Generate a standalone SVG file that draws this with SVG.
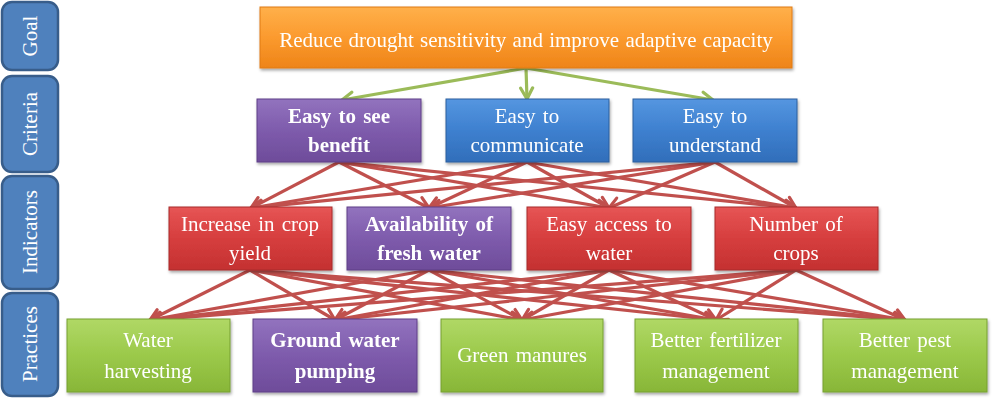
<svg xmlns="http://www.w3.org/2000/svg" width="992" height="404" viewBox="0 0 992 404">
<defs>
<linearGradient id="gOr" x1="0" y1="0" x2="0" y2="1"><stop offset="0" stop-color="#FFB04A"/><stop offset="0.5" stop-color="#FB9A2E"/><stop offset="1" stop-color="#EE8418"/></linearGradient>
<linearGradient id="gPu" x1="0" y1="0" x2="0" y2="1"><stop offset="0" stop-color="#9273BE"/><stop offset="0.5" stop-color="#7E5BAC"/><stop offset="1" stop-color="#6E4C9A"/></linearGradient>
<linearGradient id="gBl" x1="0" y1="0" x2="0" y2="1"><stop offset="0" stop-color="#5596E0"/><stop offset="0.5" stop-color="#3E80CF"/><stop offset="1" stop-color="#316EBA"/></linearGradient>
<linearGradient id="gRd" x1="0" y1="0" x2="0" y2="1"><stop offset="0" stop-color="#E65555"/><stop offset="0.5" stop-color="#D63E3E"/><stop offset="1" stop-color="#C43131"/></linearGradient>
<linearGradient id="gGr" x1="0" y1="0" x2="0" y2="1"><stop offset="0" stop-color="#B0D866"/><stop offset="0.5" stop-color="#9BC94A"/><stop offset="1" stop-color="#88B638"/></linearGradient>
<filter id="sh" x="-10%" y="-10%" width="120%" height="130%"><feDropShadow dx="1" dy="2" stdDeviation="1.5" flood-color="#000" flood-opacity="0.35"/></filter>
<marker id="arR" markerUnits="userSpaceOnUse" viewBox="0 0 16 16" markerWidth="16" markerHeight="16" refX="14" refY="8" orient="auto"><path d="M3,2 L14,8 L3,14" fill="none" stroke="#C0504D" stroke-width="3.2" stroke-linecap="round" stroke-linejoin="round"/></marker>
<marker id="arG" markerUnits="userSpaceOnUse" viewBox="0 0 16 16" markerWidth="16" markerHeight="16" refX="14" refY="8" orient="auto"><path d="M3,2 L14,8 L3,14" fill="none" stroke="#9BBB59" stroke-width="3.2" stroke-linecap="round" stroke-linejoin="round"/></marker>
</defs>
<style>
.lbl{fill:#4F81BD;stroke:#385D8A;stroke-width:2.5}
.lt{font-family:"Liberation Serif","Times New Roman",serif;font-size:21px;fill:#fff;text-anchor:middle}
.t{font-family:"Liberation Serif","Times New Roman",serif;font-size:21px;fill:#fff;text-anchor:middle;word-spacing:2px}
.b{font-weight:bold}
.or{fill:url(#gOr);stroke:#E07B14;stroke-width:1}
.pu{fill:url(#gPu);stroke:#5E3F87;stroke-width:1}
.bl{fill:url(#gBl);stroke:#2B5F9E;stroke-width:1}
.rd{fill:url(#gRd);stroke:#A82A2A;stroke-width:1}
.gr{fill:url(#gGr);stroke:#76A030;stroke-width:1}
.cr{stroke:#C0504D;stroke-width:3.2;fill:none;marker-end:url(#arR)}
.cg{stroke:#9BBB59;stroke-width:3.2;fill:none;marker-end:url(#arG)}
</style>
<rect width="992" height="404" fill="#fff"/>

<g id="label-goal"><rect class="lbl" x="2" y="2" width="56" height="68" rx="10"/><text class="lt" transform="translate(37,36) rotate(-90)">Goal</text></g>
<g id="label-criteria"><rect class="lbl" x="2" y="76" width="56" height="96" rx="10"/><text class="lt" transform="translate(37,124) rotate(-90)">Criteria</text></g>
<g id="label-indicators"><rect class="lbl" x="2" y="176" width="56" height="113" rx="10"/><text class="lt" transform="translate(37,232) rotate(-90)">Indicators</text></g>
<g id="label-practices"><rect class="lbl" x="2" y="293" width="56" height="103" rx="10"/><text class="lt" transform="translate(37,344) rotate(-90)">Practices</text></g>

<g id="connectors">
<line class="cg" x1="526" y1="68" x2="342" y2="100"/>
<line class="cg" x1="526" y1="68" x2="527" y2="99"/>
<line class="cg" x1="526" y1="68" x2="713" y2="100"/>

<line class="cr" x1="339" y1="162" x2="251" y2="208"/>
<line class="cr" x1="339" y1="162" x2="429" y2="208"/>
<line class="cr" x1="339" y1="162" x2="609" y2="208"/>
<line class="cr" x1="339" y1="162" x2="796" y2="208"/>
<line class="cr" x1="527" y1="162" x2="251" y2="208"/>
<line class="cr" x1="527" y1="162" x2="429" y2="208"/>
<line class="cr" x1="527" y1="162" x2="609" y2="208"/>
<line class="cr" x1="527" y1="162" x2="796" y2="208"/>
<line class="cr" x1="715" y1="162" x2="251" y2="208"/>
<line class="cr" x1="715" y1="162" x2="429" y2="208"/>
<line class="cr" x1="715" y1="162" x2="609" y2="208"/>
<line class="cr" x1="715" y1="162" x2="796" y2="208"/>

<line class="cr" x1="250" y1="270" x2="150" y2="320"/>
<line class="cr" x1="250" y1="270" x2="335" y2="320"/>
<line class="cr" x1="250" y1="270" x2="522" y2="320"/>
<line class="cr" x1="250" y1="270" x2="716" y2="320"/>
<line class="cr" x1="250" y1="270" x2="905" y2="320"/>
<line class="cr" x1="429" y1="270" x2="150" y2="320"/>
<line class="cr" x1="429" y1="270" x2="335" y2="320"/>
<line class="cr" x1="429" y1="270" x2="522" y2="320"/>
<line class="cr" x1="429" y1="270" x2="716" y2="320"/>
<line class="cr" x1="429" y1="270" x2="905" y2="320"/>
<line class="cr" x1="609" y1="270" x2="150" y2="320"/>
<line class="cr" x1="609" y1="270" x2="335" y2="320"/>
<line class="cr" x1="609" y1="270" x2="522" y2="320"/>
<line class="cr" x1="609" y1="270" x2="716" y2="320"/>
<line class="cr" x1="609" y1="270" x2="905" y2="320"/>
<line class="cr" x1="796" y1="270" x2="150" y2="320"/>
<line class="cr" x1="796" y1="270" x2="335" y2="320"/>
<line class="cr" x1="796" y1="270" x2="522" y2="320"/>
<line class="cr" x1="796" y1="270" x2="716" y2="320"/>
<line class="cr" x1="796" y1="270" x2="905" y2="320"/>
</g>

<g id="goal" filter="url(#sh)"><rect class="or" x="260" y="7" width="532" height="61"/><text class="t" x="526" y="47" style="word-spacing:1px">Reduce drought sensitivity and improve adaptive capacity</text></g>

<g id="crit-benefit" filter="url(#sh)"><rect class="pu" x="257" y="99" width="164" height="63"/><text class="t b" x="339" y="123">Easy to see</text><text class="t b" x="339" y="152">benefit</text></g>
<g id="crit-communicate" filter="url(#sh)"><rect class="bl" x="446" y="99" width="163" height="63"/><text class="t" x="527" y="123">Easy to</text><text class="t" x="527" y="152">communicate</text></g>
<g id="crit-understand" filter="url(#sh)"><rect class="bl" x="633" y="99" width="164" height="63"/><text class="t" x="715" y="123">Easy to</text><text class="t" x="715" y="152">understand</text></g>

<g id="ind-yield" filter="url(#sh)"><rect class="rd" x="169" y="207" width="163" height="63"/><text class="t" x="250" y="231">Increase in crop</text><text class="t" x="250" y="260">yield</text></g>
<g id="ind-freshwater" filter="url(#sh)"><rect class="pu" x="347" y="207" width="164" height="63"/><text class="t b" x="429" y="231">Availability of</text><text class="t b" x="429" y="260">fresh water</text></g>
<g id="ind-access" filter="url(#sh)"><rect class="rd" x="527" y="207" width="164" height="63"/><text class="t" x="609" y="231">Easy access to</text><text class="t" x="609" y="260">water</text></g>
<g id="ind-crops" filter="url(#sh)"><rect class="rd" x="715" y="207" width="163" height="63"/><text class="t" x="796" y="231">Number of</text><text class="t" x="796" y="260">crops</text></g>

<g id="prac-harvesting" filter="url(#sh)"><rect class="gr" x="67" y="319" width="163" height="73"/><text class="t" x="148" y="347">Water</text><text class="t" x="148" y="378">harvesting</text></g>
<g id="prac-pumping" filter="url(#sh)"><rect class="pu" x="253" y="319" width="164" height="73"/><text class="t b" x="335" y="347">Ground water</text><text class="t b" x="335" y="378">pumping</text></g>
<g id="prac-manures" filter="url(#sh)"><rect class="gr" x="441" y="319" width="162" height="73"/><text class="t" x="522" y="362">Green manures</text></g>
<g id="prac-fertilizer" filter="url(#sh)"><rect class="gr" x="635" y="319" width="163" height="73"/><text class="t" x="716" y="347">Better fertilizer</text><text class="t" x="716" y="378">management</text></g>
<g id="prac-pest" filter="url(#sh)"><rect class="gr" x="823" y="319" width="164" height="73"/><text class="t" x="905" y="347">Better pest</text><text class="t" x="905" y="378">management</text></g>
</svg>
